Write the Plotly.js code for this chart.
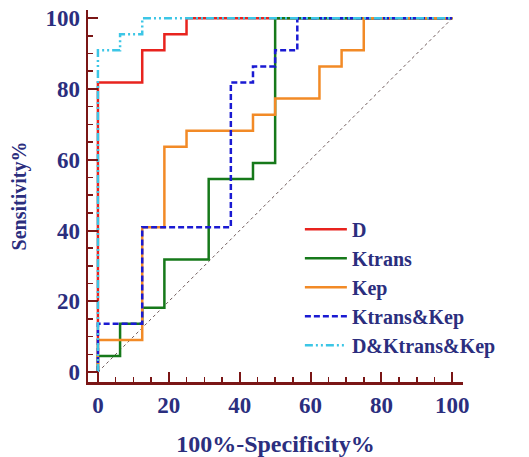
<!DOCTYPE html>
<html>
<head>
<meta charset="utf-8">
<script src="https://cdn.plot.ly/plotly-3.0.1.min.js"></script>
<style>html,body{margin:0;padding:0;background:#fff;}#chart{width:529px;height:457px;}</style>
</head>
<body>
<div id="chart"></div>
<script>
// 100%-Specificity% (x) and Sensitivity% (y) at each ROC step corner
const D_x = [0, 12.5, 18.75, 25, 100];
const D_y = [0, 81.82, 90.91, 95.45, 100];
const Ktrans_x = [0, 6.25, 12.5, 18.75, 31.25, 43.75, 50, 100];
const Ktrans_y = [0, 4.55, 13.64, 18.18, 31.82, 54.55, 59.09, 100];
const Kep_x = [0, 12.5, 18.75, 25, 43.75, 50, 62.5, 68.75, 75, 100];
const Kep_y = [0, 9.09, 40.91, 63.64, 68.18, 72.73, 77.27, 86.36, 90.91, 100];
const KtKep_x = [0, 12.5, 37.5, 43.75, 50, 56.25, 100];
const KtKep_y = [0, 13.64, 40.91, 81.82, 86.36, 90.91, 100];
const All_x = [0, 6.25, 12.5, 100];
const All_y = [0, 90.91, 95.45, 100];
const ref_x = [0, 100];
const ref_y = [0, 100];
const names = ['D', 'Ktrans', 'Kep', 'Ktrans&Kep', 'D&Ktrans&Kep'];
const xTicks = [0, 20, 40, 60, 80, 100];
const yTicks = [0, 20, 40, 60, 80, 100];

const navy = '#2b2e7e';
const axisCol = '#7a1616';
const serif = 'Liberation Serif, Times New Roman, serif';

const traces = [
  {x: ref_x, y: ref_y, mode: 'lines', showlegend: false, hoverinfo: 'skip',
   line: {color: '#6e5a5a', width: 1, dash: 'dot'}},
  {x: D_x, y: D_y, name: names[0], mode: 'lines', line: {color: '#e8231e', width: 2.5, shape: 'vh'}},
  {x: Ktrans_x, y: Ktrans_y, name: names[1], mode: 'lines', line: {color: '#16791a', width: 2.5, shape: 'vh'}},
  {x: Kep_x, y: Kep_y, name: names[2], mode: 'lines', line: {color: '#f28a26', width: 2.5, shape: 'vh'}},
  {x: KtKep_x, y: KtKep_y, name: names[3], mode: 'lines', line: {color: '#1a1ad2', width: 2.5, shape: 'vh', dash: '6px,3px'}},
  {x: All_x, y: All_y, name: names[4], mode: 'lines', line: {color: '#3cc6e6', width: 2.5, shape: 'vh', dash: '8px,3px,2px,3px,2px,3px'}}
];

function axis(ticks, range, title, tsize, standoff, labelStandoff) {
  return {
    range: range, tickvals: ticks, ticktext: ticks.map(String),
    showgrid: false, zeroline: false, showline: true,
    linecolor: axisCol, linewidth: 2.5,
    ticks: 'inside', ticklen: 10, tickwidth: 2, tickcolor: axisCol,
    minor: {ticks: 'inside', ticklen: 5, tickwidth: 1.5, tickcolor: axisCol, dtick: 5, tick0: 0, showgrid: false},
    tickfont: {family: serif, size: 23, color: navy, weight: 'bold'},
    ticklabelstandoff: labelStandoff,
    title: {text: title, font: {family: serif, size: tsize, color: navy, weight: 'bold'}, standoff: standoff},
    automargin: false, fixedrange: true
  };
}

const layout = {
  width: 529, height: 457,
  margin: {l: 88, r: 66, t: 10, b: 75},
  paper_bgcolor: '#ffffff', plot_bgcolor: '#ffffff',
  xaxis: axis(xTicks, [-2.8, 103], '100%-Specificity%', 24, 22, 1),
  yaxis: axis(yTicks, [-2.8, 102.3], 'Sensitivity%', 20, 14, 1),
  showlegend: true,
  legend: {x: 0.565, y: 0.463, xanchor: 'left', yanchor: 'top', bgcolor: 'rgba(0,0,0,0)',
           font: {family: serif, size: 20, color: navy, weight: 'bold'}, itemwidth: 42, traceorder: 'normal'}
};

Plotly.newPlot('chart', traces, layout, {displayModeBar: false, staticPlot: true});
</script>
</body>
</html>
